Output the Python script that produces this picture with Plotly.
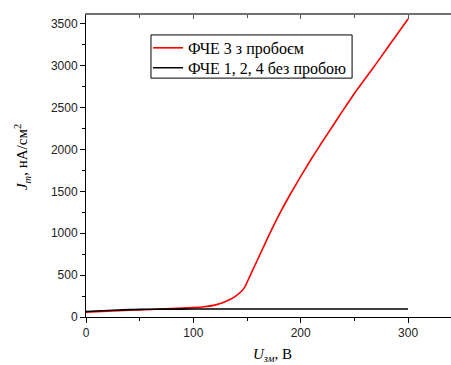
import plotly.graph_objects as go

# Data
u_red = [0, 20, 40, 60, 80, 100, 110, 120, 125, 130, 135, 140, 145, 148, 152, 156, 160, 170, 180, 190, 200,
         210, 220, 230, 240, 250, 260, 270, 280, 290, 300]
j_red = [58, 68, 80, 90, 100, 112, 122, 142, 160, 185, 215, 255, 310, 360, 470, 580, 690, 965, 1225, 1460, 1680,
         1890, 2090, 2285, 2480, 2670, 2845, 3020, 3200, 3380, 3560]

u_black = [0, 10, 20, 30, 40, 50, 60, 80, 100, 150, 200, 250, 300]
j_black = [65, 71, 77, 83, 88, 91, 93, 94, 95, 95, 95, 95, 95]

name_red = "ФЧЕ 3 з пробоєм"
name_black = "ФЧЕ 1, 2, 4 без пробою"

x_ticks = [0, 100, 200, 300]
y_ticks = [0, 500, 1000, 1500, 2000, 2500, 3000, 3500]

fig = go.Figure()
fig.add_trace(go.Scatter(x=u_red, y=j_red, mode="lines", name=name_red, legend="legend",
                         line=dict(color="#ff0000", width=1.6, shape="spline", smoothing=0.5)))
fig.add_trace(go.Scatter(x=u_black, y=j_black, mode="lines", name=name_black, legend="legend2",
                         line=dict(color="#000000", width=1.6, shape="spline", smoothing=0.5)))
# invisible trace to carry the top axis
fig.add_trace(go.Scatter(x=[0], y=[0], xaxis="x2", mode="markers", marker=dict(opacity=0),
                         showlegend=False, hoverinfo="skip"))

tickfont = dict(family="Liberation Sans, Arial, sans-serif", size=12, color="#222")
serif = "Liberation Serif, Times New Roman, serif"
leg_common = dict(xanchor="left", yanchor="middle", bgcolor="rgba(0,0,0,0)", borderwidth=0,
                  font=dict(family=serif, size=16, color="black"), itemwidth=30)

fig.update_layout(
    width=451, height=365,
    margin=dict(l=86, r=0, t=15, b=48),
    paper_bgcolor="white", plot_bgcolor="white",
    showlegend=True,
    legend=dict(x=0.170, y=0.891, **leg_common),
    legend2=dict(x=0.170, y=0.825, **leg_common),
    shapes=[dict(type="rect", xref="paper", yref="paper", x0=0.178, x1=0.729, y0=0.791, y1=0.934,
                 line=dict(color="black", width=1), fillcolor="white", layer="above")],
    xaxis=dict(range=[0, 340], tickvals=x_ticks, ticks="outside", ticklen=5, tickwidth=1,
               tickcolor="black", showline=True, linecolor="black", linewidth=1,
               showgrid=False, zeroline=False, tickfont=tickfont,
               minor=dict(dtick=50, tick0=0, ticks="outside", ticklen=3, tickcolor="black", showgrid=False)),
    xaxis2=dict(range=[0, 340], overlaying="x", side="top", anchor="y", matches="x",
                showticklabels=False, tickvals=x_ticks, ticks="inside", ticklen=4,
                tickcolor="#555", showline=True, linecolor="#707070", linewidth=2,
                showgrid=False, zeroline=False,
                minor=dict(dtick=50, tick0=0, ticks="inside", ticklen=3, tickcolor="#555", showgrid=False)),
    yaxis=dict(range=[0, 3607], tickvals=y_ticks, ticks="outside", ticklen=5, tickwidth=1,
               tickcolor="black", showline=True, linecolor="black", linewidth=1,
               showgrid=False, zeroline=False, tickfont=tickfont,
               minor=dict(dtick=250, tick0=0, ticks="outside", ticklen=3, tickcolor="black", showgrid=False)),
    annotations=[
        dict(text="<i>U</i><sub><i>зм</i></sub>, В", xref="paper", yref="paper",
             x=0.512, y=-0.126, xanchor="center", yanchor="middle", showarrow=False,
             font=dict(family=serif, size=15, color="black")),
        dict(text="<i>J</i><sub><i>m</i></sub>, нА/см<sup>2</sup>", xref="paper", yref="paper",
             x=-0.175, y=0.53, xanchor="center", yanchor="middle", showarrow=False, textangle=-90,
             font=dict(family=serif, size=15, color="black")),
    ],
)

fig.write_html("out.html", config={"displayModeBar": False},
               post_script="document.body.style.margin='0';document.body.style.padding='0';"
                           "document.body.style.overflow='hidden';")
